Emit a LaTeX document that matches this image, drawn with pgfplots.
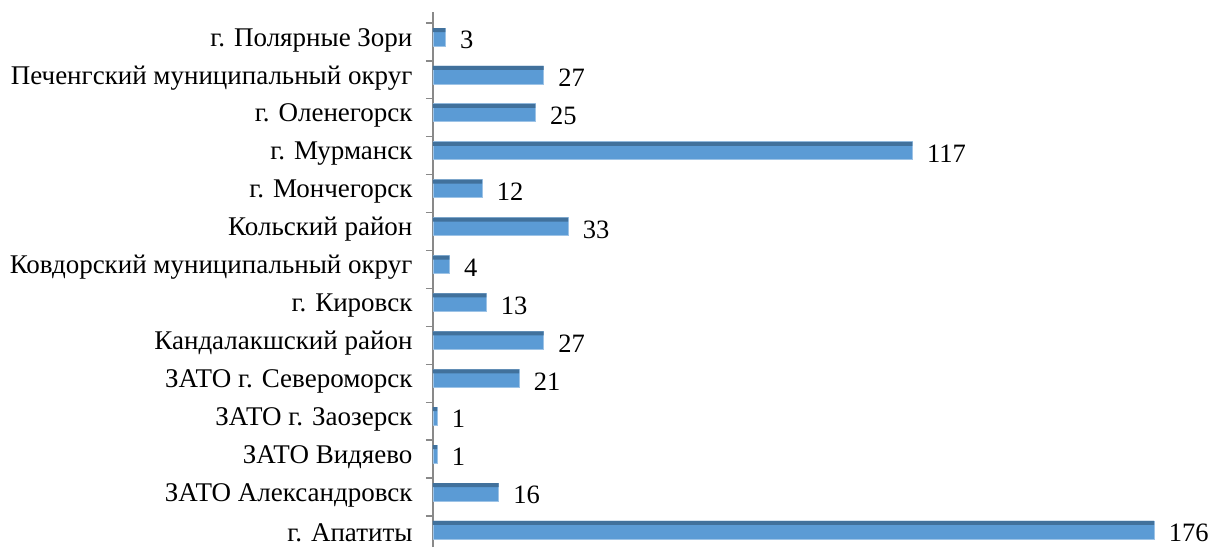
\documentclass[border=0pt]{standalone}
\usepackage{pgfplots}
\pgfplotsset{compat=1.18}
\usepackage{fontspec}
\setmainfont{Liberation Serif}
\definecolor{barlight}{HTML}{5B9BD5}
\definecolor{bardark}{HTML}{41719C}
\definecolor{baredge}{HTML}{9DC3E6}
\definecolor{axgray}{HTML}{898989}
\begin{document}
\begin{tikzpicture}
\begin{axis}[
  name=ax,
  scale only axis,
  width=737.5pt, height=535pt,
  xmin=0, xmax=180,
  ymin=-0.45, ymax=13.66,
  axis x line=none,
  axis y line*=left,
  y axis line style={draw=axgray, line width=2pt, -},
  ytick={0,...,13},
  yticklabels={г. Апатиты, ЗАТО Александровск, ЗАТО Видяево, ЗАТО г. Заозерск, ЗАТО г. Североморск, Кандалакшский район, г. Кировск, Ковдорский муниципальный округ, Кольский район, г. Мончегорск, г. Мурманск, г. Оленегорск, Печенгский муниципальный округ, г. Полярные Зори},
  major tick length=0pt,
  minor ytick={-0.63,0.37,1.37,2.37,3.37,4.37,5.37,6.37,7.37,8.37,9.37,10.37,11.37,12.37,13.37},
  minor tick length=7pt,
  tick align=outside,
  minor tick style={draw=axgray, line width=1.2pt},
  y tick label style={font=\fontsize{27}{31}\selectfont, xshift=-17pt, yshift=-3pt},
  xbar,
  /pgf/number format/assume math mode=true,
  clip=false,
]
\addplot[xbar, bar width=18pt, bar shift=0pt, fill=barlight, draw=baredge, line width=0.8pt,
  nodes near coords,
  nodes near coords style={font=\fontsize{26.5}{31}\selectfont, anchor=west, xshift=11pt, yshift=-3pt, text=black}]
  coordinates {(176,0) (16,1) (1,2) (1,3) (21,4) (27,5) (13,6) (4,7) (33,8) (12,9) (117,10) (25,11) (27,12) (3,13)};
\addplot[xbar, bar width=4pt, bar shift=7pt, fill=bardark, draw=none]
  coordinates {(176,0) (16,1) (1,2) (1,3) (21,4) (27,5) (13,6) (4,7) (33,8) (12,9) (117,10) (25,11) (27,12) (3,13)};
\end{axis}
\pgfresetboundingbox
\path ([xshift=-433pt]ax.south west) rectangle ([xshift=778pt,yshift=547pt]ax.south west);
\end{tikzpicture}
\end{document}
